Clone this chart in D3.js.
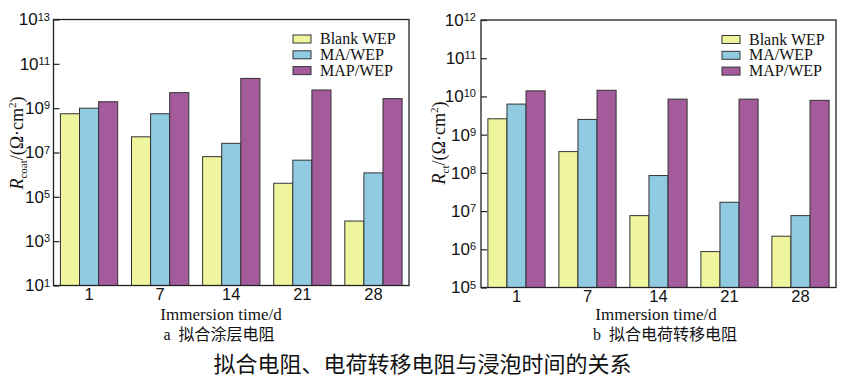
<html>
    <head>
        <script src="https://d3js.org/d3.v7.min.js"></script>
    </head>
    <body>
    <div id="graph"></div>

    <script>
        // categories and series
        var days = ["1", "7", "14", "21", "28"];
        var seriesNames = ["Blank WEP", "MA/WEP", "MAP/WEP"];
        var seriesColors = ["#eff59c", "#90cbe1", "#a35b9b"];

        // a: fitted coating resistance, ohm*cm2
        var rcoatBlank = [5.6e8, 5.1e7, 6.5e6, 4.1e5, 8.1e3];
        var rcoatMA    = [1.0e9, 5.6e8, 2.6e7, 4.5e6, 1.2e6];
        var rcoatMAP   = [1.95e9, 5.0e9, 2.2e10, 6.6e9, 2.7e9];
        var rcoatTicks = [1e1, 1e3, 1e5, 1e7, 1e9, 1e11, 1e13];

        // b: fitted charge transfer resistance, ohm*cm2
        var rctBlank = [2.6e9, 3.6e8, 7.6e6, 8.7e5, 2.2e6];
        var rctMA    = [6.3e9, 2.5e9, 8.5e7, 1.7e7, 7.6e6];
        var rctMAP   = [1.4e10, 1.45e10, 8.5e9, 8.5e9, 7.9e9];
        var rctTicks = [1e5, 1e6, 1e7, 1e8, 1e9, 1e10, 1e11, 1e12];

        var svg = d3.select("#graph")
                  .append("svg")
                    .attr("width", 849)
                    .attr("height", 386)
                    .style("font-family", "'Liberation Serif', 'Times New Roman', serif");

        function drawPanel(p) {
            var width = p.right - p.left,
                height = p.bottom - p.top;

            var g = svg.append("g")
                .attr("transform", "translate(" + p.left + "," + p.top + ")");

            var y = d3.scaleLog()
                .domain(p.domain)
                .range([height, 0]);

            var x0 = d3.scaleBand()
                .domain(days)
                .range([0, width])
                .paddingInner(0.194)
                .paddingOuter(0.097);

            var x1 = d3.scaleBand()
                .domain(seriesNames)
                .range([0, x0.bandwidth()]);

            var rows = days.map(function(d, i) {
                return {day: d, values: seriesNames.map(function(s, j) {
                    return {key: s, color: seriesColors[j], value: p.series[j][i]};
                })};
            });

            // bars
            g.selectAll(".grp")
                .data(rows)
                .enter()
                .append("g")
                    .attr("class", "grp")
                    .attr("transform", function(d) { return "translate(" + x0(d.day) + ",0)"; })
                .selectAll("rect")
                .data(function(d) { return d.values; })
                .enter()
                .append("rect")
                    .attr("x", function(d) { return x1(d.key); })
                    .attr("y", function(d) { return y(d.value); })
                    .attr("width", x1.bandwidth())
                    .attr("height", function(d) { return height - y(d.value); })
                    .attr("fill", function(d) { return d.color; })
                    .attr("stroke", "#333")
                    .attr("stroke-width", 1);

            // y axis, inward ticks, 10^n labels
            var yAxis = d3.axisLeft(y)
                .tickValues(p.ticks)
                .tickSize(-6)
                .tickPadding(p.tickPad)
                .tickFormat(function() { return ""; });

            var yGroup = g.append("g").call(yAxis);
            yGroup.select(".domain").remove();
            yGroup.selectAll(".tick line").attr("stroke", "#222").attr("stroke-width", 1.2);
            yGroup.selectAll(".tick text")
                .attr("fill", "#111")
                .style("font-size", "17px")
                .each(function(d) {
                    var t = d3.select(this);
                    t.append("tspan").text("10");
                    t.append("tspan")
                        .attr("dy", "-0.45em")
                        .style("font-size", "11px")
                        .text(Math.round(Math.log10(d)));
                });

            // x axis labels
            var xGroup = g.append("g")
                .attr("transform", "translate(0," + height + ")")
                .call(d3.axisBottom(x0).tickSize(0).tickPadding(3));
            xGroup.select(".domain").remove();
            xGroup.selectAll("text").attr("fill", "#111").style("font-size", "16.5px");

            // frame
            g.append("rect")
                .attr("width", width)
                .attr("height", height)
                .attr("fill", "none")
                .attr("stroke", "#222")
                .attr("stroke-width", 1.3);

            // legend
            var legend = g.selectAll(".legend")
                .data(seriesNames)
                .enter()
                .append("g")
                    .attr("transform", function(d, i) {
                        return "translate(" + (p.legendX - p.left) + "," + (15.5 + i * 15.8) + ")";
                    });
            legend.append("rect")
                .attr("width", 18)
                .attr("height", 8)
                .attr("fill", function(d, i) { return seriesColors[i]; })
                .attr("stroke", "#333")
                .attr("stroke-width", 1);
            legend.append("text")
                .attr("x", 27)
                .attr("y", 9)
                .attr("fill", "#111")
                .style("font-size", "16px")
                .text(function(d) { return d; });

            // y title
            var yt = svg.append("text")
                .attr("transform", "translate(" + p.yLabelX + ",143) rotate(-90)")
                .attr("text-anchor", "middle")
                .attr("fill", "#111")
                .style("font-size", "18px");
            yt.append("tspan").style("font-style", "italic").text("R");
            yt.append("tspan").attr("dy", 4).style("font-size", "11px").text(p.sub);
            yt.append("tspan").attr("dy", -4).text("/(\u03a9\u00b7cm");
            yt.append("tspan").attr("dy", -7).style("font-size", "11px").text("2");
            yt.append("tspan").attr("dy", 7).text(")");

            // x title and caption
            svg.append("text")
                .attr("x", p.titleX)
                .attr("y", 320)
                .attr("text-anchor", "middle")
                .attr("fill", "#111")
                .style("font-size", "17px")
                .text("Immersion time/d");

            svg.append("text")
                .attr("x", p.captionX)
                .attr("y", 340)
                .attr("text-anchor", "middle")
                .attr("fill", "#111")
                .style("font-size", "16px")
                .style("white-space", "pre")
                .style("font-family", "'Liberation Serif', 'Noto Sans CJK SC', serif")
                .text(p.caption);
        }

        drawPanel({
            left: 53.5, right: 409, top: 19.5, bottom: 285.5,
            domain: [1e1, 1e13], ticks: rcoatTicks,
            series: [rcoatBlank, rcoatMA, rcoatMAP],
            tickPad: 3.5, sub: "coat", yLabelX: 23,
            legendX: 293, titleX: 221, captionX: 219,
            caption: "a  \u62df\u5408\u6d82\u5c42\u7535\u963b"
        });

        drawPanel({
            left: 481, right: 836, top: 20, bottom: 287.5,
            domain: [1e5, 1e12], ticks: rctTicks,
            series: [rctBlank, rctMA, rctMAP],
            tickPad: 5, sub: "ct", yLabelX: 445,
            legendX: 722, titleX: 656, captionX: 665,
            caption: "b  \u62df\u5408\u7535\u8377\u8f6c\u79fb\u7535\u963b"
        });

        // figure title
        svg.append("text")
            .attr("x", 422.5)
            .attr("y", 372)
            .attr("text-anchor", "middle")
            .attr("fill", "#111")
            .style("font-size", "22px")
            .style("font-family", "'Noto Sans CJK SC', sans-serif")
            .text("\u62df\u5408\u7535\u963b\u3001\u7535\u8377\u8f6c\u79fb\u7535\u963b\u4e0e\u6d78\u6ce1\u65f6\u95f4\u7684\u5173\u7cfb");
    </script>
    </body>
</html>

<style>
    body{
        margin: 0;
    }
</style>
